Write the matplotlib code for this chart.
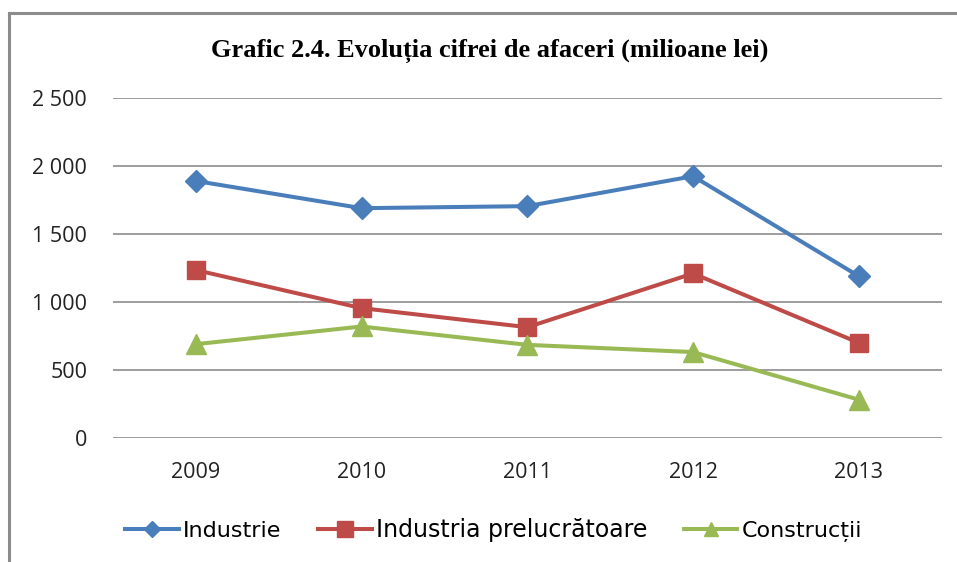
import matplotlib.pyplot as plt
from matplotlib.lines import Line2D

years = ["2009", "2010", "2011", "2012", "2013"]
industrie = [1890, 1690, 1705, 1925, 1190]
prelucratoare = [1235, 955, 815, 1210, 700]
constructii = [690, 820, 685, 632, 282]
y_ticks = [0, 500, 1000, 1500, 2000, 2500]
y_labels = ["0", "500", "1 000", "1 500", "2 000", "2 500"]

blue = "#4A7EBB"
red = "#BE4B48"
green = "#98B954"

fig = plt.figure(figsize=(9.57, 5.62), dpi=100)
ax = fig.add_axes([0.118, 0.2206, 0.866, 0.605])

x = range(len(years))
ax.plot(x, industrie, color=blue, lw=2.9, marker="D", ms=11)
ax.plot(x, prelucratoare, color=red, lw=2.9, marker="s", ms=13)
ax.plot(x, constructii, color=green, lw=2.9, marker="^", ms=15)

ax.set_xlim(-0.5, 4.5)
ax.set_ylim(0, 2500)
ax.set_xticks(list(x))
ax.set_xticklabels(years)
ax.set_yticks(y_ticks)
ax.set_yticklabels(y_labels)
ax.grid(axis="y", color="#8C8C8C", lw=1.2)
ax.set_axisbelow(True)
for s in ax.spines.values():
    s.set_visible(False)
ax.tick_params(length=0, labelsize=15.5, colors="#222222")
ax.tick_params(axis="y", pad=18.5)
ax.tick_params(axis="x", pad=17)
for t in ax.get_xticklabels() + ax.get_yticklabels():
    t.set_family("Open Sans")

fig.text(0.512, 0.91, "Grafic 2.4. Evoluția cifrei de afaceri (milioane lei)",
         ha="center", va="center", family="Liberation Serif",
         fontweight="bold", fontsize=19)

# legend handles with smaller markers, like the original
handles = [
    Line2D([], [], color=blue, lw=2.9, marker="D", ms=8),
    Line2D([], [], color=red, lw=2.9, marker="s", ms=11),
    Line2D([], [], color=green, lw=2.9, marker="^", ms=10),
]
names = ["Industrie", "Industria prelucrătoare", "Construcții"]
leg = fig.legend(handles, names, loc="center", bbox_to_anchor=(0.516, 0.057),
                 ncol=3, frameon=False, handlelength=2.4, handletextpad=0.2,
                 columnspacing=1.65, prop={"family": "DejaVu Sans", "size": 16})
for t in leg.get_texts():
    if t.get_text() == "Industria prelucrătoare":
        t.set_fontsize(17)

# outer frame (top and left only)
fig.add_artist(Line2D([0.009, 0.009], [0, 0.977], color="#8C8C8C", lw=2.2))
fig.add_artist(Line2D([0.009, 1], [0.977, 0.977], color="#8C8C8C", lw=2.2))

fig.savefig("out.png", dpi=100)
